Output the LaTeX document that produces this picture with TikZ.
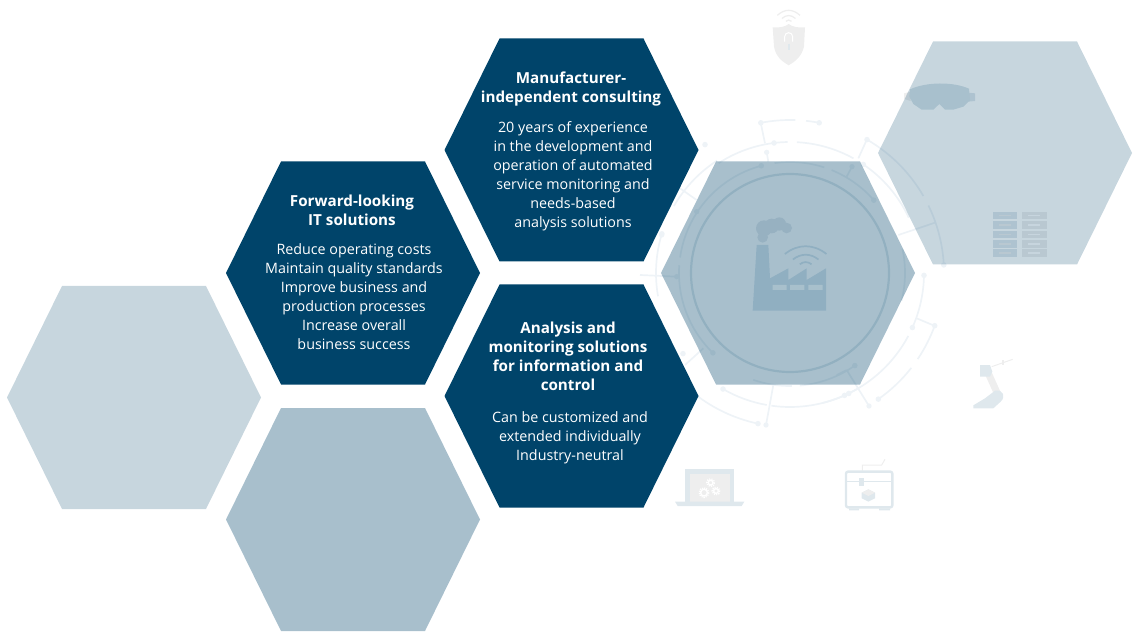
\documentclass[tikz,border=0pt]{standalone}
\usepackage{fontspec}
\setmainfont{Open Sans}
\definecolor{hexblue}{HTML}{00446A}
\definecolor{ringblue}{HTML}{EEF3F7}
\definecolor{iconblue}{HTML}{DFE8ED}
\definecolor{icongrey}{HTML}{EEEEEE}
\definecolor{factoryblue}{HTML}{90AFC1}
\definecolor{smokeblue}{HTML}{97B1C1}
\tikzset{
  pics/hexa/.style={code={\fill[pic actions] (-127,0) -- (-72,-111.5) -- (72,-111.5) -- (127,0) -- (72,111.5) -- (-72,111.5) -- cycle;}},
  darkhex/.style={fill=hexblue},
  midhex/.style={fill=hexblue,fill opacity=.34},
  lighthex/.style={fill=hexblue,fill opacity=.22},
  titletext/.style={text=white,align=center,anchor=north,font=\fontsize{15.2}{19}\selectfont\bfseries},
  bodytext/.style={text=white,align=center,anchor=north,font=\fontsize{14.3}{19}\selectfont},
  ring/.style={draw=ringblue,line width=1.7pt},
  ringdot/.style={fill=ringblue},
}
\begin{document}
\begin{tikzpicture}[x=1pt,y=-1pt]
\useasboundingbox (0,0) rectangle (1140,644);
% rings round the factory
\begin{scope}[shift={(790,273)},y=1pt]
  \draw[draw=iconblue,line width=2.2pt] (0,0) circle (99);
  \foreach \from/\to/\rad in {105/172/111,176/226/111,98/72/111,68/41/111,12/-14/115,-55/-85/113,-89/-109/113,
      97/91/131,87/61/131,56/25/131,123/97/131,150/123/134,
      -1/-24/134,-28/-66/134,-60/-76/134,
      -120/-100/134,-98/-64/134,
      163/190/134,
      -102/-130/154,-130/-146/154,
      101/88/153,84/79/153,
      60/30/154,26/3/154,-20/-34/154,-38/-55/154}{
    \draw[ring] (\from:\rad) arc[start angle=\from,end angle=\to,radius=\rad];
  }
  \foreach \ang/\rad in {105/111,226/111,41/111,-55/113,97/131,56/131,-66/134,-120/134,-64/134,
      163/134,-102/154,101/153,79/153,60/154,3/154,-20/154,-55/154,-1/134,-24/134,-143/134,123.5/154}{
    \fill[ringdot] (\ang:\rad) circle (2.8);
  }
\end{scope}
% spokes
\begin{scope}[shift={(640,100)},scale=1/3]
  \draw[ring] (362,68) -- (375,130);
  \draw[ring] (380,157) -- (385,185);
  \draw[ring] (680,120) -- (655,175);
  \draw[ring] (885,368) -- (775,405);
  \draw[ring] (830,655) -- (885,678);
  \draw[ring] (400,855) -- (378,975);
  \draw[ring] (620,810) -- (687,918);
  \draw[ring] (590,825) -- (620,810);
  \draw[ring] (120,265) -- (170,300);
  \draw[ring] (0,525) -- (110,530);
  \draw[ring] (135,795) -- (190,745);
  \draw[ring] (636,200) -- (620,230);
  \fill[ringdot] (378,975) circle (8) (687,918) circle (8) (380,157) circle (8) (110,530) circle (8);
  \fill[ringdot] (636,200) circle (8) (170,335) circle (8) (65,405) circle (8);
\end{scope}
% goggles
\begin{scope}[shift={(750,0)},scale=1/3]
  \fill[icongrey] (462,280) -- (482,275) -- (482,303) -- (462,297) -- cycle;
  \fill[iconblue] (655,278) -- (675,280) -- (675,303) -- (655,305) -- cycle;
  \fill[iconblue!97!hexblue] (480,268) .. controls (530,245) and (610,245) .. (657,266) -- (660,300) -- (640,320) -- (610,329) -- (585,329) -- (568,312) -- (550,329) -- (515,329) -- (490,312) -- (478,290) -- cycle;
  % shield
  \fill[icongrey] (68,82) .. controls (90,84) and (105,80) .. (116,72) .. controls (127,80) and (142,84) .. (165,82) -- (162,140) .. controls (155,170) and (135,185) .. (116,196) .. controls (97,185) and (77,170) .. (72,140) -- cycle;
  \draw[white,line width=1pt] (104,125) -- (104,110) arc[start angle=180,end angle=360,radius=12] -- (128,125);
  \draw[iconblue,line width=2pt] (116,132) -- (116,150);
  \foreach \rad in {10,24,40}{
    \draw[icongrey,line width=1.3pt] ({116-\rad*.85},{70-\rad*.6}) .. controls ({116-\rad*.3},{70-\rad*1.1}) and ({116+\rad*.3},{70-\rad*1.1}) .. ({116+\rad*.85},{70-\rad*.6});
  }
\end{scope}
% server rack
\begin{scope}[shift={(970,190)},scale=1/3]
  \foreach \ytop in {65,93,122,150,178}{
    \fill[iconblue] (68,\ytop) rectangle (142,\ytop+23);
    \fill[icongrey] (155,\ytop) rectangle (230,\ytop+23);
    \fill[icongrey] (88,\ytop+9) rectangle (124,\ytop+14);
    \fill[white] (175,\ytop+9) rectangle (210,\ytop+14);
  }
\end{scope}
% laptop, printer, robot
\begin{scope}[shift={(660,350)},scale=1/3]
  \fill[iconblue] (76,357) rectangle (223,456);
  \fill[icongrey] (90,372) rectangle (210,456);
  \fill[iconblue] (45,455) -- (253,455) -- (245,468) -- (53,468) -- cycle;
  \foreach \xc/\yc/\rad in {152/398/7,132/428/10,168/423/7}{
    \draw[white,line width=1.3pt] (\xc,\yc) circle (\rad);
    \draw[white,line width=2.4pt,dash pattern=on 1pt off 1pt] (\xc,\yc) circle (\rad+3);
  }
  \draw[icongrey,line width=1pt] (607,362) -- (607,345) -- (665,345) -- (675,328);
  \draw[iconblue,line width=2.4pt,rounded corners=2pt] (558,365) rectangle (697,472);
  \draw[iconblue,line width=1pt] (558,393) -- (697,393);
  \fill[iconblue] (567,475) rectangle (597,481) (657,475) rectangle (690,481);
  \fill[iconblue] (598,383) rectangle (612,407);
  \fill[iconblue] (605,428) -- (625,418) -- (645,428) -- (645,445) -- (625,455) -- (605,445) -- cycle;
  \fill[icongrey] (605,428) -- (625,418) -- (645,428) -- (625,438) -- cycle;
  \draw[icongrey,line width=1pt] (995,50) -- (1058,28);
  \fill[icongrey] (1025,30) rectangle (1032,45);
  \draw[icongrey,line width=7pt] (985,70) -- (1012,130);
  \fill[iconblue] (960,45) -- (990,45) -- (997,65) -- (990,80) -- (960,80) -- cycle;
  \fill[iconblue] (940,166) -- (975,145) -- (1005,122) .. controls (1030,118) and (1038,140) .. (1022,155) -- (1000,175) -- (940,175) -- cycle;
\end{scope}
% hexagons
\pic[lighthex] (leftHex) at (134,397.5) {hexa};
\pic[midhex] (bottomHex) at (353,519.5) {hexa};
\pic[midhex] (factoryHex) at (788,273) {hexa};
\pic[lighthex] (rightHex) at (1005,153) {hexa};
\pic[darkhex] (forwardHex) at (353,273) {hexa};
\pic[darkhex] (consultHex) at (571.5,150) {hexa};
\pic[darkhex] (analysisHex) at (571.5,396) {hexa};
% factory icon on top
\begin{scope}[shift={(640,100)},scale=1/3]
  \foreach \xc/\yc/\rad in {372/385/24,368/412/16,418/372/20,440/384/16,395/378/22}{
    \fill[smokeblue] (\xc,\yc) circle (\rad);
  }
  \fill[factoryblue] (338,632) -- (350,435) -- (385,435) -- (390,535) -- (445,505) -- (445,540) -- (500,505) -- (500,540) -- (558,505) -- (558,632) -- cycle;
  \fill[hexblue!34] (398,555) rectangle (440,570) (450,555) rectangle (493,570) (505,555) rectangle (548,570);
  \foreach \rad in {22,48,78}{
    \draw[factoryblue,line width=1.7pt] ({497-\rad*.8},{505-\rad*.55}) .. controls ({497-\rad*.3},{505-\rad*.95}) and ({497+\rad*.3},{505-\rad*.95}) .. ({497+\rad*.8},{505-\rad*.55});
  }
\end{scope}
% texts
\node[titletext] (consultTitle) at (571,68.3) {Manufacturer-\\independent consulting};
\node[bodytext] (consultBody) at (573,118) {20 years of experience\\in the development and\\operation of automated\\service monitoring and\\needs-based\\analysis solutions};
\node[titletext] (forwardTitle) at (352,191.3) {Forward-looking\\IT solutions};
\node[bodytext] (forwardBody) at (354,240) {Reduce operating costs\\Maintain quality standards\\Improve business and\\production processes\\Increase overall\\business success};
\node[titletext] (analysisTitle) at (568,318.3) {Analysis and\\monitoring solutions\\for information and\\control};
\node[bodytext] (analysisBody) at (570,408.3) {Can be customized and\\extended individually\\Industry-neutral};
\end{tikzpicture}
\end{document}
